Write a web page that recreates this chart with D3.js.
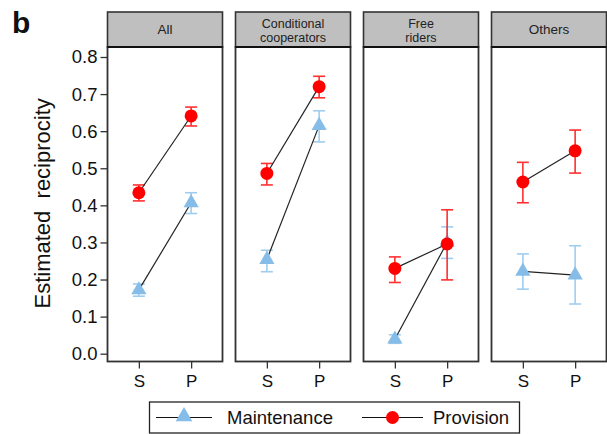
<!DOCTYPE html>
<html>
<head>
<meta charset="utf-8">
<script src="https://cdn.jsdelivr.net/npm/d3@7"></script>
<style>
  html, body { margin: 0; padding: 0; background: #fff; }
  svg { display: block; font-family: "Liberation Sans", Arial, sans-serif; }
</style>
</head>
<body>
<script>
// ---- data ----
const groups = ["All", "Conditional\ncooperators", "Free\nriders", "Others"];
const conditions = ["S", "P"];
const yTicks = [0.0, 0.1, 0.2, 0.3, 0.4, 0.5, 0.6, 0.7, 0.8];

const maintenance   = [[0.172, 0.407], [0.254, 0.615], [0.039, 0.300], [0.222, 0.212]];
const maintenanceLo = [[0.155, 0.378], [0.221, 0.571], [0.028, 0.257], [0.174, 0.134]];
const maintenanceHi = [[0.188, 0.434], [0.279, 0.655], [0.051, 0.342], [0.269, 0.291]];

const provision   = [[0.434, 0.641], [0.486, 0.720], [0.230, 0.296], [0.463, 0.547]];
const provisionLo = [[0.412, 0.614], [0.455, 0.690], [0.192, 0.199], [0.407, 0.487]];
const provisionHi = [[0.455, 0.665], [0.513, 0.748], [0.261, 0.388], [0.516, 0.603]];

const seriesNames = ["Maintenance", "Provision"];

// ---- layout ----
const W = 607, H = 434;
const svg = d3.select("body").append("svg").attr("width", W).attr("height", H);

const stripTop = 12, stripBottom = 47, panelBottom = 361.5;
const facet = d3.scaleBand().domain(groups).range([107.5, 606.5]).paddingInner(13 / 128).paddingOuter(0);
const y = d3.scaleLinear().domain([0, 0.8]).range([353.7, 57]);

const colMaintPt = "#85bde8", colMaintBar = "#9fcdef";
const colProvPt = "#ff0000", colProvBar = "#ff3030";
const borderCol = "#333";

// title letter
svg.append("text").attr("x", 12).attr("y", 33).attr("font-size", 30).attr("font-weight", "bold")
  .attr("fill", "#111").text("b");

// y axis label
svg.append("text")
  .attr("transform", `translate(50,${(57 + 353.7) / 2 - 2}) rotate(-90)`)
  .attr("text-anchor", "middle").attr("font-size", 22).attr("fill", "#111")
  .attr("xml:space", "preserve").style("white-space", "pre")
  .text("Estimated  reciprocity");

// y axis on first panel
const yAxisG = svg.append("g").attr("transform", `translate(${facet(groups[0])},0)`)
  .call(d3.axisLeft(y).tickValues(yTicks).tickFormat(d3.format(".1f")).tickSize(7).tickPadding(3));
yAxisG.select(".domain").remove();
yAxisG.selectAll(".tick line").attr("stroke", borderCol).attr("stroke-width", 1.3);
yAxisG.selectAll(".tick text").attr("font-size", 18.5).attr("fill", "#111")
  .attr("font-family", "Liberation Sans, Arial, sans-serif");

const sym = d3.symbol().type(d3.symbolTriangle).size(100);

groups.forEach((g, gi) => {
  const left = facet(g), w = facet.bandwidth();
  const x = d3.scalePoint().domain(conditions).range([left, left + w]).padding(0.6);
  const pg = svg.append("g");

  // strip
  pg.append("rect").attr("x", left).attr("y", stripTop).attr("width", w).attr("height", stripBottom - stripTop)
    .attr("fill", "#bfbfbf").attr("stroke", borderCol).attr("stroke-width", 1.6);
  const lines = g.split("\n");
  const cy = (stripTop + stripBottom) / 2;
  const multi = lines.length > 1;
  const fs = multi ? 12.5 : 13.5;
  const lh = 14;
  const st = pg.append("text").attr("text-anchor", "middle").attr("font-size", fs).attr("fill", "#222");
  lines.forEach((ln, li) => {
    st.append("tspan").attr("x", left + w / 2)
      .attr("y", cy + (multi ? 5 : 4.6) + (li - (lines.length - 1) / 2) * lh)
      .text(ln);
  });

  // panel box
  pg.append("rect").attr("x", left).attr("y", stripBottom).attr("width", w).attr("height", panelBottom - stripBottom)
    .attr("fill", "#fff").attr("stroke", borderCol).attr("stroke-width", 1.8);
  pg.append("line").attr("x1", left).attr("x2", left + w).attr("y1", stripBottom).attr("y2", stripBottom)
    .attr("stroke", "#111").attr("stroke-width", 2.2);

  // x axis
  const xAxisG = pg.append("g").attr("transform", `translate(0,${panelBottom})`)
    .call(d3.axisBottom(x).tickSize(7).tickPadding(6));
  xAxisG.select(".domain").remove();
  xAxisG.selectAll(".tick line").attr("stroke", borderCol).attr("stroke-width", 1.3);
  xAxisG.selectAll(".tick text").attr("font-size", 17).attr("fill", "#111")
    .attr("font-family", "Liberation Sans, Arial, sans-serif");

  const series = [
    { vals: maintenance[gi], lo: maintenanceLo[gi], hi: maintenanceHi[gi], pc: colMaintPt, bc: colMaintBar, shape: "tri" },
    { vals: provision[gi], lo: provisionLo[gi], hi: provisionHi[gi], pc: colProvPt, bc: colProvBar, shape: "circ" }
  ];

  series.forEach(s => {
    const pts = conditions.map((c, ci) => ({ c, v: s.vals[ci], lo: s.lo[ci], hi: s.hi[ci] }));
    // error bars
    pts.forEach(p => {
      const px = x(p.c);
      pg.append("line").attr("x1", px).attr("x2", px).attr("y1", y(p.lo)).attr("y2", y(p.hi))
        .attr("stroke", s.bc).attr("stroke-width", 1.6);
      [p.lo, p.hi].forEach(e => {
        pg.append("line").attr("x1", px - 6).attr("x2", px + 6).attr("y1", y(e)).attr("y2", y(e))
          .attr("stroke", s.bc).attr("stroke-width", 1.6);
      });
    });
    // connecting line
    pg.append("path").datum(pts)
      .attr("d", d3.line().x(p => x(p.c)).y(p => y(p.v)))
      .attr("fill", "none").attr("stroke", "#222").attr("stroke-width", 1.2);
    // points
    pts.forEach(p => {
      if (s.shape === "tri") {
        pg.append("path").attr("d", sym).attr("transform", `translate(${x(p.c)},${y(p.v)})`)
          .attr("fill", s.pc);
      } else {
        pg.append("circle").attr("cx", x(p.c)).attr("cy", y(p.v)).attr("r", 6.5).attr("fill", s.pc);
      }
    });
  });
});

// legend
const lg = svg.append("g");
lg.append("rect").attr("x", 149.5).attr("y", 402).attr("width", 370).attr("height", 31)
  .attr("fill", "#fff").attr("stroke", "#222").attr("stroke-width", 1.3);
const ly = 417.5;
const legendItems = [
  { name: seriesNames[0], x1: 156, x2: 212, shape: "tri", col: colMaintPt, tx: 227 },
  { name: seriesNames[1], x1: 362, x2: 423, shape: "circ", col: colProvPt, tx: 433 }
];
legendItems.forEach(it => {
  lg.append("line").attr("x1", it.x1).attr("x2", it.x2).attr("y1", ly).attr("y2", ly)
    .attr("stroke", "#111").attr("stroke-width", 1.2);
  const mx = (it.x1 + it.x2) / 2;
  if (it.shape === "tri") {
    lg.append("path").attr("d", d3.symbol().type(d3.symbolTriangle).size(120)).attr("transform", `translate(${mx},${ly - 1})`).attr("fill", it.col);
  } else {
    lg.append("circle").attr("cx", mx).attr("cy", ly).attr("r", 6.5).attr("fill", it.col);
  }
  lg.append("text").attr("x", it.tx).attr("y", ly + 6.5).attr("font-size", 18.5).attr("fill", "#111").text(it.name);
});
</script>
</body>
</html>
